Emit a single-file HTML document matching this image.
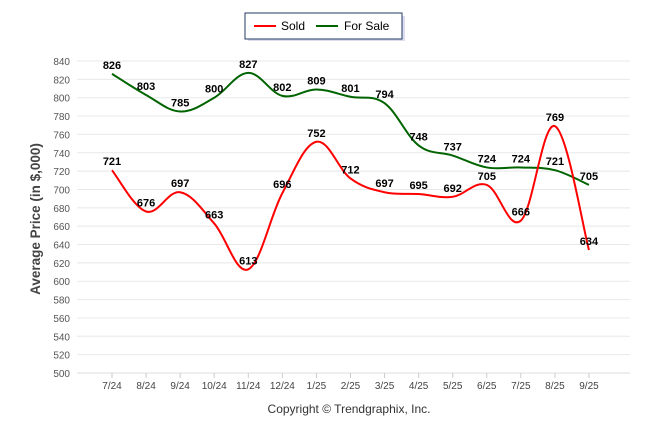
<!DOCTYPE html>
<html><head><meta charset="utf-8"><style>
body{margin:0;background:#fff;width:646px;height:434px;overflow:hidden}
svg{font-family:"Liberation Sans",sans-serif}
</style></head><body>
<svg id="c" width="646" height="434">
<g>
<rect x="246" y="14" width="157" height="25" fill="#dde" transform="translate(2,2)"/>
<rect x="245" y="13" width="157" height="26" fill="#fff" stroke="#1f3864" stroke-width="1"/>
<line x1="254" y1="26" x2="276" y2="26" stroke="#f00" stroke-width="2"/>
<text x="281" y="30" font-size="12">Sold</text>
<line x1="316" y1="26" x2="338" y2="26" stroke="#006400" stroke-width="2"/>
<text x="344" y="30" font-size="12">For Sale</text>
</g>
<text transform="translate(40,219) rotate(-90)" text-anchor="middle" font-size="13.5" font-weight="bold" fill="#444">Average Price (in $,000)</text>
<text x="349" y="413" text-anchor="middle" font-size="12" fill="#333">Copyright © Trendgraphix, Inc.</text>
<g id="grid"></g><g id="lines"></g><g id="labels"></g>
</svg>
<script>
const categories=["7/24","8/24","9/24","10/24","11/24","12/24","1/25","2/25","3/25","4/25","5/25","6/25","7/25","8/25","9/25"];
const sold=[721,676,697,663,613,696,752,712,697,695,692,705,666,769,634];
const forSale=[826,803,785,800,827,802,809,801,794,748,737,724,724,721,705];
const yTicks=[500,520,540,560,580,600,620,640,660,680,700,720,740,760,780,800,820,840];
const NS="http://www.w3.org/2000/svg";
const x0=77,x1=630,y0=373,y1=61;
const X=i=>112+i*34.07;
const Y=v=>y0-(v-500)/(840-500)*(y0-y1);
function el(t,a,p){const e=document.createElementNS(NS,t);for(const k in a)e.setAttribute(k,a[k]);p.appendChild(e);return e;}
const grid=document.getElementById('grid');
yTicks.forEach(v=>{
 const l=el('line',{x1:x0,x2:x1,y1:Y(v),y2:Y(v),stroke:'#e8e8e8'},grid);
 
 
 const t=el('text',{x:70,y:Y(v)+4,'text-anchor':'end','font-size':'10',fill:'#555'},grid);
 t.textContent=v;
 
 
});
el('line',{x1:x0,x2:x1,y1:y0,y2:y0,stroke:'#ddd'},grid);
categories.forEach((c,i)=>{
 el('line',{x1:X(i),x2:X(i),y1:y0,y2:y0+5,stroke:'#ccc'},grid);
 const t=el('text',{x:X(i),y:389,'text-anchor':'middle','font-size':'10',fill:'#444'},grid);
 t.textContent=c;
 
 
});
function path(vals){
 const p=vals.map((v,i)=>[X(i),Y(v)]);
 let d=`M${p[0][0]},${p[0][1]}`;
 for(let i=0;i<p.length-1;i++){
  const a=p[i-1]||p[i],b=p[i],c=p[i+1],e=p[i+2]||c,t=0.18;
  d+=`C${b[0]+(c[0]-a[0])*t},${b[1]+(c[1]-a[1])*t} ${c[0]-(e[0]-b[0])*t},${c[1]-(e[1]-b[1])*t} ${c[0]},${c[1]}`;
 }
 return d;
}
const lines=document.getElementById('lines'),labels=document.getElementById('labels');
[[forSale,'#006400','forsale'],[sold,'#f00','sold']].forEach(([vals,col,n])=>{
 const p=el('path',{d:path(vals),fill:'none',stroke:col,'stroke-width':2},lines);
 
 
 vals.forEach((v,i)=>{
  const t=el('text',{x:X(i),y:Y(v)-5,'text-anchor':'middle','font-size':'11','font-weight':'bold',fill:'#000'},labels);
  t.textContent=v;
  
  
 });
});
</script>
</body></html>
